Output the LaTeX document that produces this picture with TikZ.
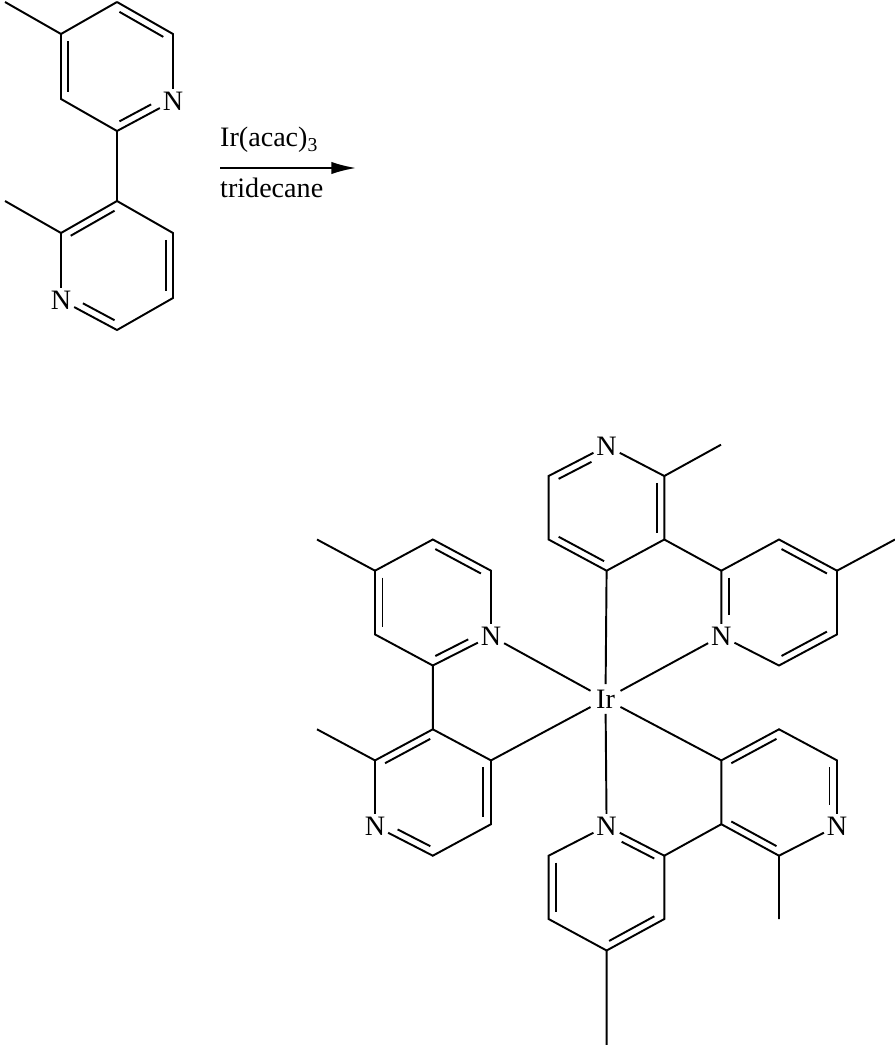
\documentclass[tikz,border=0pt]{standalone}
\usepackage{fontspec}
\setmainfont{Liberation Serif}
\usetikzlibrary{calc,arrows.meta}
\tikzset{bond/.style={line width=1.1pt},
 atom/.style={inner sep=1.5pt,font=\fontsize{16}{18}\selectfont},
 lab/.style={font=\fontsize{16}{18}\selectfont}}
\newcommand\dbl[5]{%
 \draw[bond] let \p1=($(#1)!0.13!(#3)$), \p2=($(#2)!0.13!(#3)$) in
 ($(\p1)!#4!(\p2)$) -- ($(\p2)!#5!(\p1)$);}
\begin{document}
\begin{tikzpicture}[x=0.02cm,y=-0.02cm]
\useasboundingbox (0,0) rectangle (895,1045);
% ---- reactant ring A
\coordinate (a1) at (117,2); \coordinate (a2) at (173,34);
\node[atom] (aN) at (173,101) {N};
\coordinate (a4) at (117,131); \coordinate (a5) at (61,99); \coordinate (a6) at (61,34);
\coordinate (ac) at (117,67); \coordinate (am) at (5,2);
\draw[bond] (a1)--(a2)--(aN)--(a4)--(a5)--(a6)--(a1);
\draw[bond] (a6)--(am);
\dbl{a1}{a2}{ac}{0.05}{0.05}\dbl{a6}{a5}{ac}{0.05}{0.05}\dbl{a4}{aN}{ac}{0.05}{0.3}
% ring B
\coordinate (b1) at (117,201); \coordinate (b2) at (173,233); \coordinate (b3) at (173,298);
\coordinate (b4) at (117,330); \node[atom] (bN) at (61,300) {N}; \coordinate (b6) at (61,233);
\coordinate (bc) at (117,265); \coordinate (bm) at (5,201);
\draw[bond] (b1)--(b2)--(b3)--(b4)--(bN)--(b6)--(b1);
\draw[bond] (a4)--(b1) (b6)--(bm);
\dbl{b1}{b6}{bc}{0.05}{0.05}\dbl{b2}{b3}{bc}{0.05}{0.05}\dbl{b4}{bN}{bc}{0.05}{0.3}
% arrow
\coordinate (ar1) at (220,168); \coordinate (ar2) at (356,168);
\draw[line width=1.1pt,-{Latex[length=14pt,width=7pt]}] (ar1)--(ar2);
\node[lab,anchor=south west] (r1) at (214,159) {Ir(acac)\textsubscript{3}};
\node[lab,anchor=north west] (r2) at (214,172) {tridecane};
% ---- complex
\node[atom,inner sep=3pt] (Ir) at (605.5,699) {Ir};
% ring C
\node[atom] (cN) at (606.6,446) {N};
\coordinate (c2) at (664.3,476); \coordinate (c3) at (664.3,539.5); \coordinate (c4) at (606.6,570.7);
\coordinate (c5) at (548.6,539.5); \coordinate (c6) at (548.6,476); \coordinate (cc) at (606.6,508);
\coordinate (cm) at (721,444.7);
\draw[bond] (cN)--(c2)--(c3)--(c4)--(c5)--(c6)--(cN);
\draw[bond] (c2)--(cm) (c4)--(Ir);
\dbl{c6}{cN}{cc}{0.05}{0.3}\dbl{c2}{c3}{cc}{0.05}{0.05}\dbl{c5}{c4}{cc}{0.05}{0.05}
% ring D
\coordinate (d1) at (721.3,570.7); \coordinate (d2) at (779,539.5); \coordinate (d3) at (837,570.7);
\coordinate (d4) at (837,634.4); \coordinate (d5) at (779,665.5); \node[atom] (dN) at (721.3,636) {N};
\coordinate (dc) at (779,602.5); \coordinate (dm) at (895,539.5);
\draw[bond] (d1)--(d2)--(d3)--(d4)--(d5)--(dN)--(d1);
\draw[bond] (c3)--(d1) (d3)--(dm) (dN)--(Ir);
\dbl{d1}{dN}{dc}{0.05}{0.3}\dbl{d2}{d3}{dc}{0.05}{0.05}\dbl{d4}{d5}{dc}{0.05}{0.05}
% ring E
\node[atom] (eN) at (491,636) {N};
\coordinate (e2) at (491,570.7); \coordinate (e3) at (432.8,539.5); \coordinate (e4) at (375,570.7);
\coordinate (e5) at (375,634.4); \coordinate (e6) at (432.8,665.5); \coordinate (ec) at (432.8,602.5);
\coordinate (em) at (317,539.5);
\draw[bond] (eN)--(e2)--(e3)--(e4)--(e5)--(e6)--(eN);
\draw[bond] (e4)--(em) (eN)--(Ir);
\dbl{e3}{e2}{ec}{0.05}{0.05}\dbl{e4}{e5}{ec}{0.05}{0.05}\dbl{e6}{eN}{ec}{0.05}{0.3}
% ring F
\coordinate (f1) at (432.8,729.3); \coordinate (f2) at (491,760.4); \coordinate (f3) at (491,824.2);
\coordinate (f4) at (432.8,855.7); \node[atom] (fN) at (375,826) {N}; \coordinate (f6) at (375,760.4);
\coordinate (fc) at (432.8,792.5); \coordinate (fm) at (317,729.3);
\draw[bond] (f1)--(f2)--(f3)--(f4)--(fN)--(f6)--(f1);
\draw[bond] (e6)--(f1) (f6)--(fm) (f2)--(Ir);
\dbl{f1}{f6}{fc}{0.05}{0.05}\dbl{f2}{f3}{fc}{0.05}{0.05}\dbl{f4}{fN}{fc}{0.05}{0.3}
% ring G
\coordinate (g1) at (721.3,760.4); \coordinate (g2) at (779,729.3); \coordinate (g3) at (837,760.4);
\node[atom] (gN) at (837,826) {N}; \coordinate (g5) at (779,855.7); \coordinate (g6) at (721.3,824.2);
\coordinate (gc) at (779,792.5); \coordinate (gm) at (779,919);
\draw[bond] (g1)--(g2)--(g3)--(gN)--(g5)--(g6)--(g1);
\draw[bond] (g1)--(Ir) (g5)--(gm);
\dbl{g1}{g2}{gc}{0.05}{0.05}\dbl{g3}{gN}{gc}{0.05}{0.3}\dbl{g5}{g6}{gc}{0.05}{0.05}
% ring H
\coordinate (h1) at (664.3,855.7); \node[atom] (hN) at (606.6,826) {N};
\coordinate (h3) at (548.6,855.7); \coordinate (h4) at (548.6,919); \coordinate (h5) at (606.6,950.5);
\coordinate (h6) at (664.3,919); \coordinate (hc) at (606.6,887.5); \coordinate (hm) at (606.6,1045);
\draw[bond] (h1)--(hN)--(h3)--(h4)--(h5)--(h6)--(h1);
\draw[bond] (g6)--(h1) (h5)--(hm) (hN)--(Ir);
\dbl{h1}{hN}{hc}{0.05}{0.3}\dbl{h3}{h4}{hc}{0.05}{0.05}\dbl{h5}{h6}{hc}{0.05}{0.05}
\end{tikzpicture}
\end{document}
